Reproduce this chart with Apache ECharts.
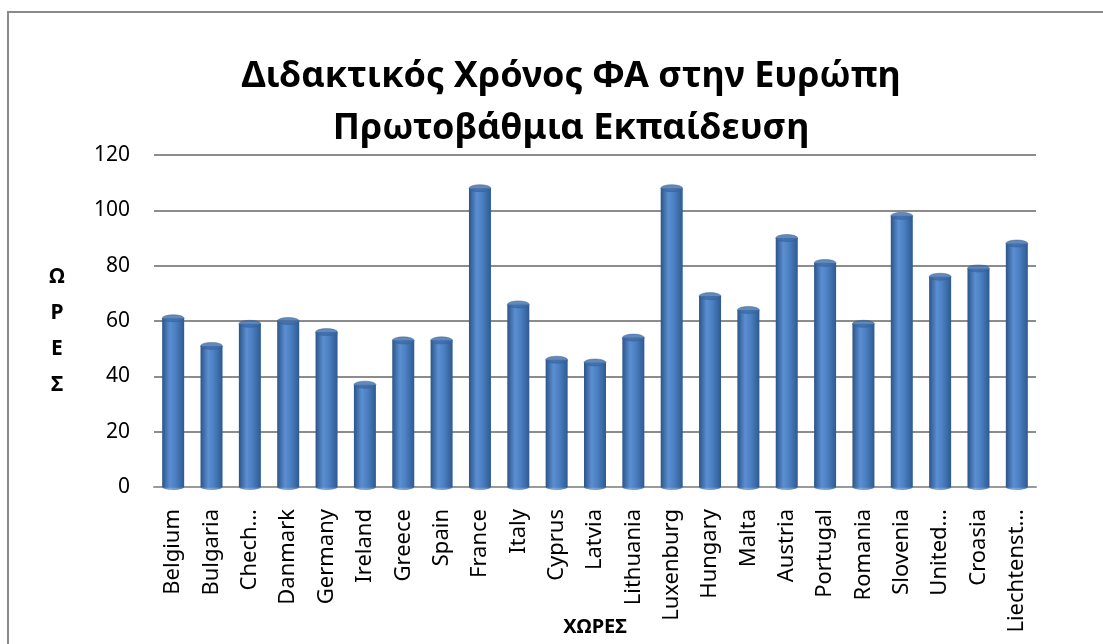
<!DOCTYPE html>
<html>

<head>
    <title>Διδακτικός Χρόνος ΦΑ</title>
    <meta charset="utf-8">
    <script src="https://cdn.jsdelivr.net/npm/echarts@6/dist/echarts.min.js"></script>
    <style>
        html, body { margin: 0; padding: 0; background: #fff; overflow: hidden; }
    </style>
</head>

<body>
    <!-- chart container -->
    <div id="main" style="width: 1103px;height:644px;"></div>

    <script type="text/javascript">
        var myChart = echarts.init(document.getElementById('main'));

        // countries as printed under the bars
        var countries = ['Belgium', 'Bulgaria', 'Chech…', 'Danmark', 'Germany', 'Ireland', 'Greece', 'Spain',
            'France', 'Italy', 'Cyprus', 'Latvia', 'Lithuania', 'Luxenburg', 'Hungary', 'Malta', 'Austria',
            'Portugal', 'Romania', 'Slovenia', 'United…', 'Croasia', 'Liechtenst…'];

        // hours of PE
        var hours = [61, 51, 59, 60, 56, 37, 53, 53, 108, 66, 46, 45, 54, 108, 69, 64, 90, 81, 59, 98, 76, 79, 88];

        // y axis ticks
        var yMin = 0;
        var yMax = 120;
        var yStep = 20;

        var fontFamily = '"Noto Sans", "DejaVu Sans", sans-serif';

        // cylinder body: darker at the edges, light band left of centre
        var bodyColor = new echarts.graphic.LinearGradient(0, 0, 1, 0, [
            { offset: 0, color: '#2c5488' },
            { offset: 0.35, color: '#5a8fd2' },
            { offset: 0.6, color: '#4c80c2' },
            { offset: 1, color: '#2e5a92' }
        ]);

        var option = {
            animation: false,
            backgroundColor: '#fff',
            title: {
                text: 'Διδακτικός Χρόνος ΦΑ στην Ευρώπη\nΠρωτοβάθμια Εκπαίδευση',
                left: 566,
                top: 46,
                textAlign: 'center',
                textStyle: {
                    fontFamily: fontFamily,
                    fontSize: 36,
                    fontWeight: 'bold',
                    color: '#000',
                    lineHeight: 52
                }
            },
            // outer frame of the chart area (runs off the right and bottom edges)
            graphic: [{
                type: 'rect',
                shape: { x: 8, y: 12, width: 1120, height: 700 },
                style: { fill: 'none', stroke: '#8a8a8a', lineWidth: 2 },
                silent: true
            }],
            grid: {
                left: 154,
                right: 67,
                top: 155,
                bottom: 157,
                outerBoundsMode: 'none'
            },
            xAxis: {
                type: 'category',
                data: countries,
                name: 'ΧΩΡΕΣ',
                nameLocation: 'middle',
                nameGap: 130,
                nameMoveOverlap: false,
                nameTextStyle: {
                    fontFamily: fontFamily,
                    fontSize: 20,
                    fontWeight: 'bold',
                    color: '#000'
                },
                axisLine: { lineStyle: { color: '#9a9a9a', width: 2 } },
                axisTick: { show: false },
                axisLabel: {
                    interval: 0,
                    rotate: 90,
                    margin: 22,
                    fontFamily: fontFamily,
                    fontSize: 22,
                    color: '#000'
                }
            },
            yAxis: {
                type: 'value',
                min: yMin,
                max: yMax,
                interval: yStep,
                // small spacer line first, so the stacked letters sit a bit lower
                name: '{s| }\nΩ\nΡ\nΕ\nΣ',
                nameLocation: 'middle',
                nameRotate: 0,
                nameGap: 97,
                nameMoveOverlap: false,
                nameTextStyle: {
                    fontFamily: fontFamily,
                    fontSize: 21,
                    fontWeight: 'bold',
                    color: '#000',
                    lineHeight: 36,
                    align: 'center',
                    verticalAlign: 'middle',
                    rich: {
                        s: { fontSize: 10, lineHeight: 20 }
                    }
                },
                axisLine: { show: false },
                axisTick: { show: false },
                axisLabel: {
                    margin: 24,
                    fontFamily: fontFamily,
                    fontSize: 21,
                    color: '#000'
                },
                splitLine: {
                    lineStyle: { color: '#8c8c8c', width: 2 }
                }
            },
            series: [{
                // cylinder bodies
                name: 'hours',
                type: 'bar',
                barWidth: 22,
                data: hours,
                itemStyle: { color: bodyColor },
                z: 2
            }, {
                // rounded bottoms of the cylinders
                name: 'base',
                type: 'scatter',
                data: hours.map(function(v) { return 0; }),
                symbol: 'circle',
                symbolSize: [22, 6],
                itemStyle: { color: bodyColor },
                silent: true,
                z: 3
            }, {
                // top caps
                name: 'cap',
                type: 'scatter',
                data: hours,
                symbol: 'circle',
                symbolSize: [22, 7],
                itemStyle: { color: '#3d6ba8', borderColor: '#2f5a90', borderWidth: 0.5 },
                silent: true,
                z: 4
            }]
        };

        myChart.setOption(option);
    </script>
</body>

</html>
